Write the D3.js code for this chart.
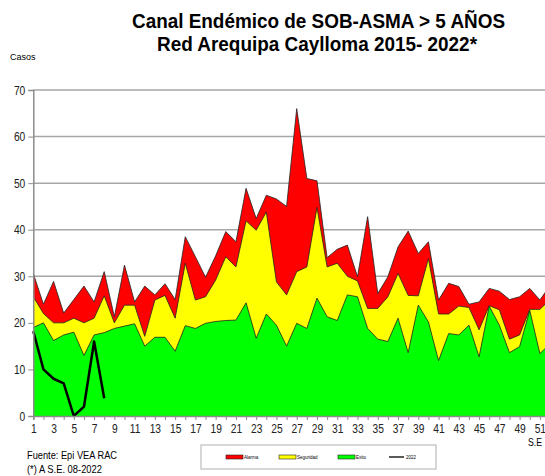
<!DOCTYPE html>
<html>
<head>
<meta charset="utf-8">
<script src="https://cdn.jsdelivr.net/npm/d3@7/dist/d3.min.js"></script>
<style>
  body { margin: 0; background: #fff; }
  svg text { font-family: "Liberation Sans", Arial, sans-serif; }
</style>
</head>
<body>
<script>
const w = 545;
const h = 476;

// semanas epidemiologicas
const semanas = d3.range(1, 53);

// limites superiores de cada zona
const alarma = [30.6, 24, 28.9, 22.1, 25, 27.9, 24.5, 31, 21.3, 32.4,
  24.5, 27.9, 26, 28.4, 25, 38.5, 34.2, 29.8, 34.4, 39.6,
  37.4, 48.9, 42.4, 47.4, 46.6, 45, 66, 51, 50.5, 34,
  35.8, 36.7, 29.9, 42.8, 26.3, 29.9, 36.3, 39.7, 34.9, 37.4,
  24.9, 28.5, 27.8, 24, 24.5, 27.4, 26.8, 25, 25.6, 27.4,
  24.9, 28];
const seguridad = [25.6, 22, 20, 20, 21, 20, 21, 25.8, 20, 23.8,
  23.8, 17.1, 24.9, 25.9, 21, 32.8, 24.9, 25.6, 29.2, 34.2,
  32, 41.9, 39.9, 43.8, 28.8, 26, 31, 32, 44.8, 32,
  32.8, 30, 29, 23.1, 23.1, 25.6, 30.6, 25.9, 25.8, 33.8,
  21.9, 21.9, 23.6, 23.3, 18.5, 23.7, 22.8, 16.5, 17.4, 22.9,
  22.9, 25];
const exito = [19, 20, 16.2, 17.4, 18, 13, 17.4, 17.9, 18.8, 19.3,
  19.8, 15, 16.9, 16.9, 13.9, 19.4, 18.8, 19.9, 20.3, 20.5,
  20.6, 24.3, 16.7, 21.9, 19.5, 15, 19.9, 18.8, 25.3, 21.3,
  20.5, 26, 25.6, 18.8, 16.5, 16, 21, 13.6, 23.8, 20.2,
  11.9, 17.7, 17.4, 19.5, 12.7, 23.6, 19.5, 13.6, 14.9, 22.7,
  13.4, 15.5];
// casos 2022 hasta la S.E. 08
const casos2022 = [18.2, 10, 8, 7, 0, 2, 16, 3.8];

const yTicks = [0, 10, 20, 30, 40, 50, 60, 70];

const x = d3.scaleLinear().domain([1, 52]).range([33.3, 550]);
const y = d3.scaleLinear().domain([0, 70]).range([416, 90]);

const svg = d3.select("body").append("svg").attr("width", w).attr("height", h);

// texto angosto (la fuente original es tipo Arial Narrow)
const narrow = (sel, len) =>
  sel.attr("textLength", len).attr("lengthAdjust", "spacingAndGlyphs");

// titulo
svg.append("text")
  .attr("x", 132).attr("y", 28)
  .attr("font-size", 20).attr("font-weight", "bold")
  .text("Canal Endémico de SOB-ASMA > 5 AÑOS")
  .call(narrow, 373);
svg.append("text")
  .attr("x", 157).attr("y", 51)
  .attr("font-size", 20).attr("font-weight", "bold")
  .text("Red Arequipa Caylloma 2015- 2022*")
  .call(narrow, 320);

svg.append("text")
  .attr("x", 10).attr("y", 60)
  .attr("font-size", 9)
  .text("Casos");

// grid
svg.append("g")
  .selectAll("line")
  .data(yTicks.filter((d) => d > 0))
  .join("line")
  .attr("x1", x(1)).attr("x2", w)
  .attr("y1", (d) => y(d)).attr("y2", (d) => y(d))
  .attr("stroke", "#a6a6a6")
  .attr("stroke-width", 1.5);

// areas
const areaOf = (vals) => d3.area()
  .x((d, i) => x(semanas[i]))
  .y0(y(0))
  .y1((d) => y(d))(vals);
const lineOf = (vals) => d3.line()
  .x((d, i) => x(semanas[i]))
  .y((d) => y(d))(vals);

const zonas = [
  { name: "Alarma", vals: alarma, color: "#ff0000" },
  { name: "Seguridad", vals: seguridad, color: "#ffff00" },
  { name: "Exito", vals: exito, color: "#00ff00" },
];

zonas.forEach((z) => {
  svg.append("path")
    .attr("d", areaOf(z.vals))
    .attr("fill", z.color);
  svg.append("path")
    .attr("d", lineOf(z.vals))
    .attr("fill", "none")
    .attr("stroke", "#222")
    .attr("stroke-width", 0.8);
});

// linea 2022
svg.append("path")
  .attr("d", lineOf(casos2022))
  .attr("fill", "none")
  .attr("stroke", "#000")
  .attr("stroke-width", 2.5)
  .attr("stroke-linejoin", "round");

// eje y
const yAxis = svg.append("g")
  .attr("transform", `translate(${x(1)},0)`)
  .call(d3.axisLeft(y).tickValues(yTicks).tickSize(5).tickPadding(3));
yAxis.select(".domain").attr("stroke", "#8c8c8c").attr("stroke-width", 1.5);
yAxis.selectAll(".tick line").attr("stroke", "#8c8c8c");
yAxis.selectAll(".tick text")
  .attr("font-size", 12.5)
  .attr("fill", "#222")
  .attr("x", -8 / 0.82)
  .attr("transform", "scale(0.82,1)")
  .style("font-family", null);

// eje x
const xAxis = svg.append("g")
  .attr("transform", `translate(0,${y(0)})`)
  .call(d3.axisBottom(x).tickValues(semanas).tickSize(4).tickPadding(4)
    .tickFormat((d) => (d % 2 === 1 ? d : "")));
xAxis.select(".domain").attr("stroke", "#8c8c8c").attr("stroke-width", 1.5);
xAxis.selectAll(".tick line").attr("stroke", "#8c8c8c");
xAxis.selectAll(".tick text")
  .attr("font-size", 12.5)
  .attr("fill", "#222")
  .attr("transform", "scale(0.82,1)")
  .style("font-family", null);

svg.append("text")
  .attr("x", 528).attr("y", 446)
  .attr("font-size", 11)
  .text("S.E")
  .call(narrow, 14);

svg.append("text")
  .attr("x", 27).attr("y", 459)
  .attr("font-size", 11.5)
  .text("Fuente: Epi VEA RAC")
  .call(narrow, 90);
svg.append("text")
  .attr("x", 27).attr("y", 473)
  .attr("font-size", 11.5)
  .text("(*) A S.E. 08-2022")
  .call(narrow, 75);

// leyenda
const leg = svg.append("g");
leg.append("rect")
  .attr("x", 201).attr("y", 445)
  .attr("width", 235).attr("height", 24)
  .attr("fill", "#fff")
  .attr("stroke", "#bdbdbd")
  .attr("stroke-width", 1.2);

const legItems = [
  { name: "Alarma", color: "#ff0000", x: 226 },
  { name: "Seguridad", color: "#ffff00", x: 279 },
  { name: "Exito", color: "#00ff00", x: 338 },
];
legItems.forEach((d) => {
  leg.append("rect")
    .attr("x", d.x).attr("y", 455)
    .attr("width", 17).attr("height", 4)
    .attr("fill", d.color)
    .attr("stroke", "#222").attr("stroke-width", 0.6);
  leg.append("text")
    .attr("x", d.x + 18).attr("y", 459)
    .attr("font-size", 4.5)
    .text(d.name);
});
leg.append("line")
  .attr("x1", 389).attr("x2", 404)
  .attr("y1", 457).attr("y2", 457)
  .attr("stroke", "#000").attr("stroke-width", 1.3);
leg.append("text")
  .attr("x", 406).attr("y", 459)
  .attr("font-size", 4.5)
  .text("2022");
</script>
</body>
</html>
